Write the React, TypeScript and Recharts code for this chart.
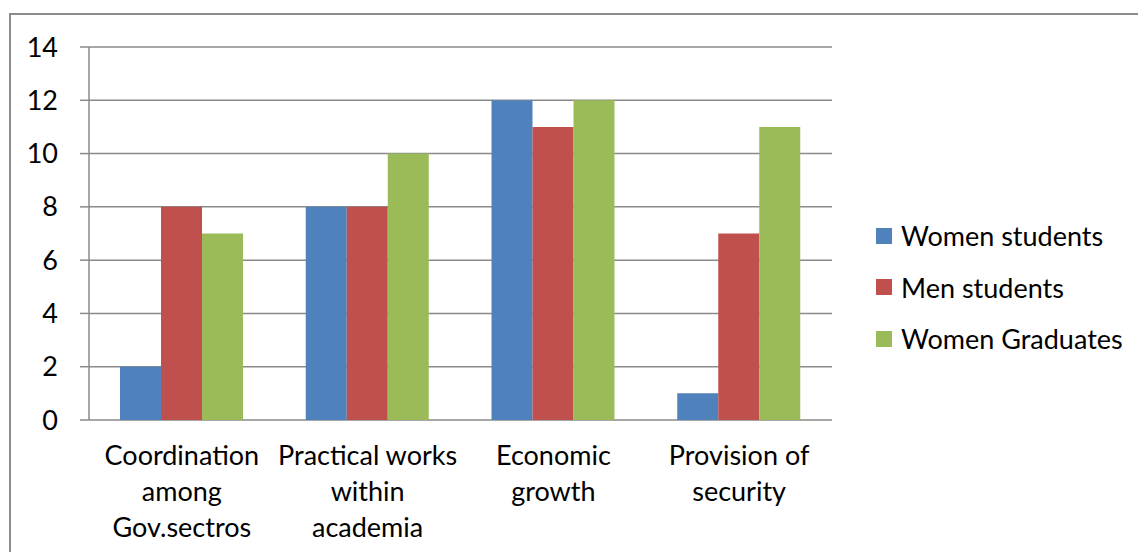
import React from 'react';
import { BarChart, Bar, XAxis, YAxis, CartesianGrid, Legend } from 'recharts';

const categories = [
  'Coordination\namong\nGov.sectros',
  'Practical works\nwithin\nacademia',
  'Economic\ngrowth',
  'Provision of\nsecurity',
];
const womenStudents = [2, 8, 12, 1];
const menStudents = [8, 8, 11, 7];
const womenGraduates = [7, 10, 12, 11];
const yTicks = [0, 2, 4, 6, 8, 10, 12, 14];
const frameTicks = [0, 1, 2, 3, 4];

const seriesList = [
  { key: 'women', name: 'Women students', color: '#4F81BD' },
  { key: 'men', name: 'Men students', color: '#C0504D' },
  { key: 'grads', name: 'Women Graduates', color: '#9BBB59' },
];

const FONT = 'Lato, "Open Sans", sans-serif';
const GRID = '#8a8a8a';

const chartData = categories.map((label, i) => ({
  label,
  women: womenStudents[i],
  men: menStudents[i],
  grads: womenGraduates[i],
}));

const CategoryTick = (props: any) => {
  const { x, y, payload } = props;
  const lines = String(payload.value).split('\n');
  return (
    <text x={x} y={y + 45} textAnchor="middle" fill="#000" fontSize={27} fontFamily={FONT}>
      {lines.map((line, i) => (
        <tspan key={i} x={x} dy={i === 0 ? 0 : 36}>
          {line}
        </tspan>
      ))}
    </text>
  );
};

const LegendBox = () => (
  <div style={{ fontFamily: FONT, fontSize: 27, color: '#000' }}>
    {seriesList.map((s) => (
      <div key={s.key} style={{ display: 'flex', alignItems: 'center', height: 51.5 }}>
        <span style={{ width: 16, height: 16, background: s.color, display: 'inline-block', marginRight: 9 }} />
        <span>{s.name}</span>
      </div>
    ))}
  </div>
);

export default function App() {
  return (
    <div style={{ position: 'absolute', left: 0, top: 0, width: 1138, height: 552, overflow: 'hidden', background: '#fff' }}>
      <div
        style={{
          position: 'absolute',
          left: 9,
          top: 13,
          width: 1160,
          height: 580,
          border: '2px solid #8c8c8c',
          boxSizing: 'border-box',
        }}
      />
      <div style={{ position: 'absolute', left: 0, top: 0 }}>
        <BarChart
          width={1138}
          height={552}
          data={chartData}
          margin={{ top: 47, right: 306, bottom: 22, left: 29 }}
          barCategoryGap={31}
          barGap={0}
        >
          <CartesianGrid xAxisId="cat" vertical={false} stroke={GRID} strokeWidth={1.5} />
          <XAxis
            xAxisId="frame"
            type="number"
            domain={[0, 4]}
            ticks={frameTicks}
            tick={false}
            tickSize={7}
            height={0}
            stroke={GRID}
            axisLine={{ stroke: GRID, strokeWidth: 1.5 }}
            tickLine={{ stroke: GRID, strokeWidth: 1.5 }}
            allowDataOverflow
          />
          <XAxis
            xAxisId="cat"
            dataKey="label"
            interval={0}
            axisLine={false}
            tickLine={false}
            tickSize={0}
            tickMargin={0}
            height={110}
            tick={<CategoryTick />}
          />
          <YAxis
            domain={[0, 14]}
            ticks={yTicks}
            width={60}
            tickSize={9}
            tickMargin={22}
            axisLine={{ stroke: GRID, strokeWidth: 1.5 }}
            tickLine={{ stroke: GRID, strokeWidth: 1.5 }}
            tick={{ fill: '#000', fontSize: 27, fontFamily: FONT }}
          />
          <Legend
            layout="horizontal"
            verticalAlign="middle"
            align="center"
            wrapperStyle={{ left: 876, top: 210, width: 262 }}
            content={<LegendBox />}
          />
          {seriesList.map((s) => (
            <Bar
              key={s.key}
              xAxisId="cat"
              dataKey={s.key}
              name={s.name}
              fill={s.color}
              isAnimationActive={false}
            />
          ))}
        </BarChart>
      </div>
    </div>
  );
}
